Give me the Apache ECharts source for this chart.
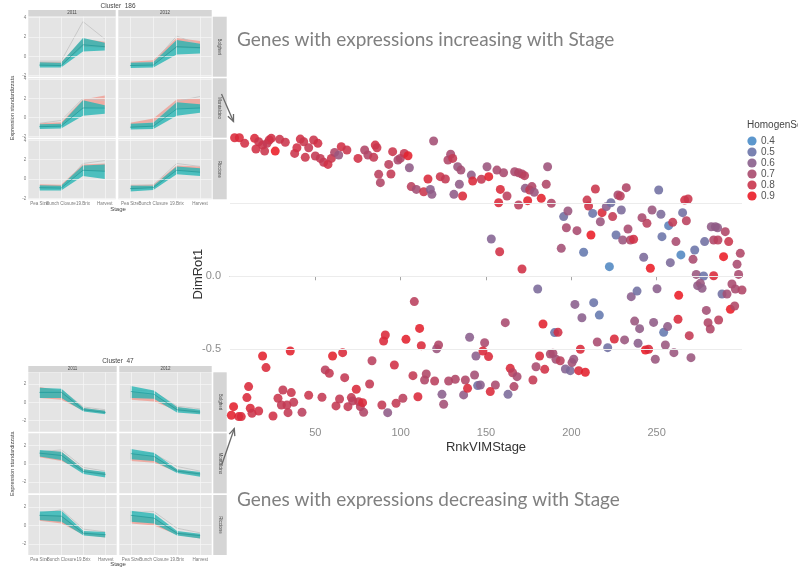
<!DOCTYPE html>
<html>
<head>
<meta charset="utf-8">
<script src="https://cdn.jsdelivr.net/npm/echarts@6/dist/echarts.min.js"></script>
<style>
  html, body { margin: 0; padding: 0; background: #ffffff; }
  #chart { width: 798px; height: 567px; }
</style>
</head>
<body>
<div id="chart"></div>
<script>
// ---- Main scatter: rank of stage VIM vs first rotated dimension, coloured by homogeneity ----
const rnkVIMStage = [
  2.7,5.5,8.6,14.4,16.8,15.2,20.3,19.1,21.7,23.0,24.2,26.5,29.1,32.4,37.9,39.2,41.2,43.2,44.1,46.1,
  49.0,50.0,51.5,52.9,54.9,57.4,59.4,61.3,63.7,65.2,68.5,75.0,78.9,80.8,84.2,85.1,86.1,87.1,88.1,93.0,
  94.3,95.3,98.4,99.8,102.1,104.3,105.1,106.2,109.2,113.5,116.0,117.4,118.3,119.3,123.2,126.2,127.7,129.3,130.5,131.2,
  133.4,134.4,135.3,136.3,141.4,142.2,147.3,
  150.6,151.6,156.4,160.3,158.4,157.4,162.3,166.8,169.1,171.1,172.6,169.1,173.0,174.4,175.6,176.9,178.3,182.4,185.3,186.1,
  188.3,153.1,158.0,171.1,195.5,198.0,197.1,203.3,194.1,207.2,209.2,210.1,211.5,212.5,214.1,217.0,218.0,220.5,222.3,223.2,
  224.2,226.2,227.3,228.7,229.3,232.2,233.2,230.1,234.6,236.5,241.4,242.4,244.3,246.3,247.3,251.2,252.5,253.1,257.0,258.0,
  259.4,261.3,264.2,265.2,266.4,268.4,267.4,271.3,272.3,273.2,277.5,278.1,282.0,284.4,283.4,285.9,285.7,289.2,290.2,292.2,
  297.1,298.0,299.0,283.4,
  155.5,161.3,162.9,164.2,165.6,166.4,168.2,177.5,179.3,180.3,181.4,183.4,184.4,187.7,189.2,190.2,192.2,191.0,193.5,196.5,
  199.4,200.4,201.4,202.1,204.3,205.3,206.2,208.2,213.1,215.2,216.4,221.3,225.2,231.2,235.1,237.1,238.5,239.1,240.0,243.4,
  245.3,248.2,249.2,250.2,254.1,255.1,256.4,260.1,262.5,262.9,269.1,270.1,274.0,275.6,276.6,279.1,280.1,281.4,286.3,288.3,
  291.2,293.2,294.1,295.7,296.1,300.0,
  2.1,5.1,6.6,10.9,9.9,11.9,12.9,16.8,19.1,21.1,25.2,28.1,30.1,31.0,33.4,34.0,35.9,37.3,35.3,42.2,
  46.1,53.9,55.8,58.2,60.1,62.1,64.2,66.0,67.2,69.1,71.1,71.9,74.0,75.4,76.4,77.7,78.3,81.8,83.2,89.0,
  90.0,91.0,92.4,96.3,97.3,101.3,103.1,108.0,107.2,110.1,111.1,112.1,114.0,115.0,119.9,121.1,122.2,124.2,125.2,128.1,
  132.0,136.9,137.9,139.2,140.4,143.3,144.1,145.1,146.7,149.2,148.2,151.5,152.5,0.8
];
const dimRot1 = [
  0.947,0.947,0.909,0.943,0.920,0.870,0.856,0.897,0.909,0.932,0.943,0.856,0.936,0.916,0.840,0.879,0.938,0.920,0.813,0.879,
  0.932,0.822,0.909,0.806,0.779,0.765,0.806,0.847,0.829,0.886,0.863,0.806,0.863,0.829,0.813,0.897,0.879,0.697,0.640,0.765,
  0.699,0.852,0.795,0.806,0.840,0.824,0.742,0.613,0.594,0.578,0.665,0.594,0.560,0.925,0.681,0.665,0.795,0.834,0.806,0.560,
  0.749,0.629,0.726,0.549,0.692,0.651,0.663,
  0.749,0.681,0.726,0.708,0.594,0.503,0.549,0.715,0.708,0.699,0.688,0.487,0.601,0.517,0.590,0.613,0.574,0.533,0.629,0.749,
  0.499,0.255,0.168,0.050,0.408,0.446,0.332,0.312,0.191,0.164,0.521,0.480,0.282,0.430,0.597,0.373,0.435,0.476,0.066,0.503,
  0.408,0.282,0.556,0.549,0.453,0.606,0.323,0.248,0.248,0.253,0.401,0.130,0.362,0.055,0.453,0.590,0.424,0.271,0.346,0.093,
  0.369,0.237,0.146,0.435,0.521,0.528,0.380,0.116,0.180,0.013,0.002,0.237,0.339,0.339,0.248,0.248,0.332,0.134,0.305,0.237,
  0.082,0.013,0.157,0.004,
  -0.743,-0.317,-0.807,-0.629,-0.659,-0.754,-0.686,-0.709,-0.618,-0.087,-0.545,-0.326,-0.636,-0.531,-0.526,-0.385,-0.383,-0.567,-0.577,-0.634,
  -0.645,-0.590,-0.567,-0.192,-0.645,-0.499,-0.283,-0.656,-0.180,-0.449,-0.265,-0.488,-0.429,-0.435,-0.139,-0.306,-0.101,-0.458,-0.358,-0.504,
  -0.499,-0.315,-0.567,-0.085,-0.383,-0.470,-0.344,-0.522,-0.294,-0.130,-0.406,-0.556,-0.064,-0.048,-0.082,-0.233,-0.317,-0.360,-0.299,-0.121,
  -0.121,-0.226,-0.053,-0.203,-0.087,-0.094,
  -0.891,-0.959,-0.959,-0.754,-0.829,-0.902,-0.937,-0.921,-0.545,-0.624,-0.955,-0.834,-0.880,-0.777,-0.880,-0.932,-0.795,-0.861,-0.511,-0.930,
  -0.813,-0.827,-0.640,-0.663,-0.545,-0.886,-0.839,-0.522,-0.693,-0.891,-0.829,-0.852,-0.772,-0.857,-0.891,-0.864,-0.930,-0.736,-0.577,-0.880,
  -0.442,-0.401,-0.932,-0.606,-0.868,-0.834,-0.431,-0.173,-0.679,-0.823,-0.356,-0.474,-0.709,-0.668,-0.716,-0.495,-0.470,-0.807,-0.875,-0.716,
  -0.704,-0.811,-0.709,-0.766,-0.417,-0.675,-0.545,-0.747,-0.743,-0.454,-0.511,-0.549,-0.788,-0.950
];
const homogenScore = [
  0.85,0.85,0.82,0.85,0.80,0.82,0.80,0.80,0.78,0.80,0.82,0.93,0.80,0.80,0.80,0.82,0.82,0.80,0.80,0.78,
  0.80,0.78,0.82,0.78,0.78,0.82,0.80,0.72,0.65,0.82,0.80,0.82,0.72,0.72,0.78,0.82,0.80,0.75,0.72,0.75,
  0.78,0.80,0.70,0.72,0.78,0.88,0.62,0.75,0.68,0.80,0.85,0.60,0.62,0.68,0.80,0.78,0.72,0.70,0.78,0.62,
  0.65,0.62,0.68,0.85,0.62,0.85,0.78,
  0.65,0.88,0.70,0.70,0.85,0.85,0.75,0.70,0.72,0.72,0.75,0.75,0.62,0.88,0.78,0.72,0.65,0.88,0.72,0.66,
  0.72,0.58,0.82,0.82,0.52,0.65,0.70,0.70,0.68,0.48,0.80,0.82,0.93,0.50,0.80,0.65,0.85,0.60,0.42,0.52,
  0.78,0.50,0.70,0.75,0.55,0.72,0.70,0.65,0.72,0.82,0.70,0.55,0.75,0.93,0.65,0.52,0.55,0.50,0.45,0.55,
  0.78,0.70,0.42,0.52,0.82,0.80,0.75,0.70,0.50,0.65,0.50,0.52,0.62,0.62,0.72,0.75,0.62,0.92,0.72,0.80,
  0.70,0.70,0.72,0.85,
  0.70,0.70,0.55,0.85,0.75,0.72,0.70,0.78,0.70,0.55,0.85,0.88,0.82,0.70,0.70,0.50,0.82,0.68,0.75,0.58,
  0.55,0.68,0.65,0.60,0.85,0.85,0.60,0.88,0.50,0.70,0.48,0.52,0.85,0.65,0.60,0.65,0.52,0.60,0.62,0.90,
  0.85,0.62,0.65,0.60,0.48,0.65,0.62,0.65,0.85,0.92,0.78,0.65,0.62,0.65,0.62,0.68,0.72,0.72,0.75,0.52,
  0.68,0.93,0.70,0.72,0.70,0.72,
  0.88,0.85,0.85,0.85,0.85,0.85,0.80,0.82,0.88,0.85,0.82,0.80,0.78,0.78,0.78,0.78,0.80,0.78,0.88,0.75,
  0.80,0.78,0.75,0.78,0.88,0.78,0.78,0.85,0.78,0.78,0.78,0.75,0.85,0.78,0.75,0.85,0.72,0.78,0.75,0.78,
  0.85,0.85,0.62,0.82,0.78,0.75,0.88,0.75,0.78,0.85,0.88,0.85,0.72,0.72,0.75,0.65,0.72,0.60,0.68,0.72,
  0.72,0.62,0.72,0.85,0.60,0.68,0.60,0.52,0.60,0.70,0.85,0.85,0.85,0.88
];
const xTickValues = [50, 100, 150, 200, 250];
const yTickValues = [-0.5, 0.0];
const yGridValues = [-0.5, 0.0, 0.5];
const legendBreaks = [0.4, 0.5, 0.6, 0.7, 0.8, 0.9];

// ---- Facet insets: expression profiles along ripening stages ----
const stages = ['Pea Size', 'Bunch Closure', '19.Brix', 'Harvest'];
const years = ['2011', '2012'];
const sites = ['Bolgheri', 'Montalcino', 'Riccione'];
const yTicks186 = [-2, 0, 2, 4];
const yTicks47 = [-2, 0, 2];

// panels ordered: site row by row, 2011 then 2012
const tealLow186 = [[-1.15,-1.15,0.5,0.6],[-1.2,-1.15,0.2,0.3],[-1.2,-1.15,0.2,0.4],[-1.25,-1.2,0.2,0.5],[-1.2,-1.2,0.3,0.0],[-1.3,-1.15,0.5,0.3]];
const tealHigh186 = [[-0.6,-0.65,1.9,1.4],[-0.65,-0.6,1.7,1.3],[-0.7,-0.65,1.8,1.3],[-0.65,-0.55,1.6,1.4],[-0.65,-0.7,1.4,1.5],[-0.7,-0.7,1.3,1.1]];
const tealMid186 = [[-0.9,-0.95,1.2,1.0],[-0.95,-0.9,1.0,0.9],[-0.95,-0.9,1.0,1.0],[-1.0,-0.9,0.9,1.0],[-0.9,-0.95,0.9,0.8],[-1.0,-0.9,0.9,0.7]];
const salmonLow186 = [[-1.0,-1.0,1.0,0.9],[-1.0,-0.9,0.9,0.8],[-1.0,-0.9,1.0,1.1],[-1.1,-0.9,1.0,1.0],[-1.0,-0.9,0.9,0.8],[-1.1,-0.9,0.9,0.7]];
const salmonHigh186 = [[-0.6,-0.6,1.8,1.5],[-0.55,-0.4,1.9,1.6],[-0.6,-0.5,1.9,2.3],[-0.55,-0.1,1.9,2.0],[-0.55,-0.6,1.5,1.6],[-0.6,-0.6,1.4,1.3]];
const grey186 = [[-0.5,-0.5,3.6,1.8],[-0.7,-0.6,2.1,1.2],[-0.6,-0.3,2.0,1.8],[-0.8,-0.5,1.7,2.2],[-0.8,-0.9,1.6,1.9],[-0.7,-0.6,1.6,1.3]];

const tealLow47 = [[0.5,0.5,-1.0,-1.3],[0.5,0.4,-1.1,-1.3],[0.8,0.4,-1.1,-1.5],[0.5,0.3,-1.0,-1.4],[0.6,0.4,-1.1,-1.3],[0.4,0.2,-1.1,-1.4]];
const tealHigh47 = [[1.6,1.5,-0.6,-0.9],[1.8,1.3,-0.5,-0.8],[1.5,1.3,-0.6,-0.9],[1.6,1.2,-0.6,-0.9],[1.5,1.6,-0.6,-0.7],[1.6,1.3,-0.6,-0.9]];
const tealMid47 = [[1.1,1.1,-0.8,-1.1],[1.2,0.9,-0.8,-1.05],[1.15,0.9,-0.85,-1.15],[1.1,0.8,-0.8,-1.1],[1.1,1.0,-0.85,-1.0],[1.1,0.8,-0.85,-1.1]];
const salmonLow47 = [[0.5,0.3,-0.9,-1.2],[0.3,0.1,-0.9,-1.2],[0.7,0.3,-0.9,-1.3],[0.3,0.1,-0.9,-1.3],[0.5,0.2,-1.0,-1.3],[0.2,0.0,-1.0,-1.4]];
const salmonHigh47 = [[1.7,1.3,-0.6,-0.9],[1.2,0.8,-0.5,-0.9],[1.4,1.3,-0.6,-1.0],[1.1,0.8,-0.6,-1.0],[1.2,1.1,-0.7,-1.0],[1.1,0.8,-0.7,-1.0]];
const grey47 = [[0.9,1.4,-0.5,-0.8],[1.4,1.2,-0.4,-0.7],[1.3,1.5,-0.4,-0.8],[1.2,1.1,-0.3,-0.8],[1.3,1.7,-0.4,-0.7],[1.4,1.5,-0.3,-0.8]];

// colour ramp for the homogeneity score (blue -> red)
const scoreColors = ['#4a8cc8', '#6b74a8', '#8a5f8c', '#a94a6e', '#c9354c', '#ea1c27'];

const insets = [
  {
    id: 'c186', title: 'Cluster  186', titleY: 6.5, stripY: [10, 16.5],
    cols: [[28.3, 115.7], [118.3, 211.7]],
    rows: [[16.7, 76.7], [78.3, 137.7], [139.3, 199.3]],
    rightStrip: [212.7, 226.7], stageY: 209.5, yMin: -2.1, yMax: 4.1, ticks: yTicks186,
    tealLow: tealLow186, tealHigh: tealHigh186, tealMid: tealMid186,
    salmonLow: salmonLow186, salmonHigh: salmonHigh186, grey: grey186
  },
  {
    id: 'c47', title: 'Cluster  47', titleY: 361.5, stripY: [366, 372],
    cols: [[28.3, 116.7], [119.3, 211.7]],
    rows: [[372.3, 431.7], [433.3, 493.3], [495, 555]],
    rightStrip: [213.3, 226.7], stageY: 564.5, yMin: -3.2, yMax: 3.3, ticks: yTicks47,
    tealLow: tealLow47, tealHigh: tealHigh47, tealMid: tealMid47,
    salmonLow: salmonLow47, salmonHigh: salmonHigh47, grey: grey47
  }
];

const grids = [];
const xAxes = [];
const yAxes = [];
const series = [];
const graphics = [];

// main scatter panel
grids.push({ left: 230, right: 56, top: 130, bottom: 148.8, containLabel: false });
xAxes.push({
  type: 'value', gridIndex: 0, min: 0, max: 300,
  name: 'RnkVIMStage', nameLocation: 'middle', nameGap: 23, nameMoveOverlap: false,
  nameTextStyle: { color: '#333333', fontSize: 13 },
  axisLine: { show: true, lineStyle: { color: '#a6a6a6', width: 1 } },
  axisTick: { show: true, customValues: xTickValues, length: 4, lineStyle: { color: '#a6a6a6' } },
  axisLabel: { customValues: xTickValues, color: '#8c8c8c', fontSize: 11, margin: 9 },
  splitLine: { show: false }
});
yAxes.push({
  type: 'value', gridIndex: 0, min: -0.97, max: 1.0,
  name: 'DimRot1', nameLocation: 'middle', nameGap: 25, nameMoveOverlap: false,
  nameTextStyle: { color: '#333333', fontSize: 13 },
  axisLine: { show: false }, axisTick: { show: false },
  axisLabel: { customValues: yTickValues, color: '#8c8c8c', fontSize: 11, margin: 9,
               formatter: v => v.toFixed(1) },
  splitLine: { show: false }
});
series.push({
  type: 'scatter', xAxisIndex: 0, yAxisIndex: 0, z: 3,
  symbolSize: 9, itemStyle: { opacity: 0.88 },
  data: rnkVIMStage.map((r, i) => [r, dimRot1[i], homogenScore[i]]),
  animation: false
});
// horizontal reference lines of the main panel
series.push({
  type: 'line', xAxisIndex: 0, yAxisIndex: 0, z: 1, silent: true, animation: false,
  symbol: 'none', data: [[0, 0]], lineStyle: { opacity: 0 },
  markLine: {
    silent: true, animation: false, symbol: ['none', 'none'], label: { show: false },
    lineStyle: { color: '#ececec', width: 1, type: 'solid' },
    data: yGridValues.map(v => ({ yAxis: v }))
  }
});

function diff(hi, lo) { return hi.map((v, i) => +(v - lo[i]).toFixed(3)); }

insets.forEach(ins => {
  for (let p = 0; p < 6; p++) {
    const row = Math.floor(p / 2), col = p % 2;
    const gi = grids.length;
    const c = ins.cols[col], r = ins.rows[row];
    grids.push({
      left: c[0], top: r[0], width: c[1] - c[0], height: r[1] - r[0],
      show: true, backgroundColor: '#e4e4e4', borderWidth: 0, containLabel: false
    });
    xAxes.push({
      type: 'category', gridIndex: gi, data: stages, boundaryGap: true,
      axisLine: { show: false }, axisTick: { show: false }, splitLine: { show: false },
      axisLabel: { show: row === 2, interval: 0, fontSize: 4.5, color: '#7a7a7a', margin: 2 }
    });
    yAxes.push({
      type: 'value', gridIndex: gi, min: ins.yMin, max: ins.yMax,
      axisLine: { show: false }, axisTick: { show: false }, splitLine: { show: false },
      axisLabel: { show: col === 0, customValues: ins.ticks, fontSize: 4.5, color: '#7a7a7a', margin: 2 }
    });
    const base = { type: 'line', xAxisIndex: gi, yAxisIndex: gi, symbol: 'none', silent: true, animation: false };
    const id = ins.id + '_' + p;
    series.push(Object.assign({}, base, {
      z: 1, data: ins.tealMid[p], lineStyle: { opacity: 0 },
      markLine: {
        silent: true, animation: false, symbol: ['none', 'none'], label: { show: false },
        lineStyle: { color: '#f7f7f7', width: 0.7, type: 'solid' },
        data: stages.map(s => ({ xAxis: s })).concat(ins.ticks.map(v => ({ yAxis: v })))
      }
    }));
    series.push(Object.assign({}, base, { z: 3, data: ins.grey[p], lineStyle: { color: '#c2c2c2', width: 0.8 } }));
    series.push(Object.assign({}, base, { z: 3, stack: 's' + id, stackStrategy: 'all', data: ins.salmonLow[p], lineStyle: { opacity: 0 } }));
    series.push(Object.assign({}, base, {
      z: 3, stack: 's' + id, stackStrategy: 'all', data: diff(ins.salmonHigh[p], ins.salmonLow[p]),
      lineStyle: { opacity: 0 }, areaStyle: { color: '#f0a198', opacity: 0.85 }
    }));
    series.push(Object.assign({}, base, { z: 4, stack: 't' + id, stackStrategy: 'all', data: ins.tealLow[p], lineStyle: { opacity: 0 } }));
    series.push(Object.assign({}, base, {
      z: 4, stack: 't' + id, stackStrategy: 'all', data: diff(ins.tealHigh[p], ins.tealLow[p]),
      lineStyle: { opacity: 0 }, areaStyle: { color: '#22b5b3', opacity: 0.78 }
    }));
    series.push(Object.assign({}, base, { z: 5, data: ins.tealMid[p], lineStyle: { color: '#11908f', width: 1, opacity: 0.55 } }));
  }

  // strips, titles and axis captions of the facet grid
  const smallFont = '4.5px "Liberation Sans", Arial, sans-serif';
  ins.cols.forEach((c, k) => {
    graphics.push({ type: 'rect', shape: { x: c[0], y: ins.stripY[0], width: c[1] - c[0], height: ins.stripY[1] - ins.stripY[0] },
                    style: { fill: '#d5d5d5' } });
    graphics.push({ type: 'text', x: (c[0] + c[1]) / 2, y: (ins.stripY[0] + ins.stripY[1]) / 2,
                    style: { text: years[k], font: smallFont, fill: '#4a4a4a', textAlign: 'center', textVerticalAlign: 'middle' } });
  });
  ins.rows.forEach((r, k) => {
    graphics.push({ type: 'rect', shape: { x: ins.rightStrip[0], y: r[0], width: ins.rightStrip[1] - ins.rightStrip[0], height: r[1] - r[0] },
                    style: { fill: '#d5d5d5' } });
    graphics.push({ type: 'text', x: (ins.rightStrip[0] + ins.rightStrip[1]) / 2, y: (r[0] + r[1]) / 2, rotation: -Math.PI / 2,
                    style: { text: sites[k], font: smallFont, fill: '#4a4a4a', textAlign: 'center', textVerticalAlign: 'middle' } });
  });
  graphics.push({ type: 'text', x: 118, y: ins.titleY,
                  style: { text: ins.title, font: '6.5px "Liberation Sans", Arial, sans-serif', fill: '#444', textAlign: 'center', textVerticalAlign: 'middle' } });
  graphics.push({ type: 'text', x: 118, y: ins.stageY,
                  style: { text: 'Stage', font: '6px "Liberation Sans", Arial, sans-serif', fill: '#444', textAlign: 'center', textVerticalAlign: 'middle' } });
  graphics.push({ type: 'text', x: 12.5, y: (ins.rows[0][0] + ins.rows[2][1]) / 2, rotation: Math.PI / 2,
                  style: { text: 'Expression standardizzata', font: '5.5px "Liberation Sans", Arial, sans-serif', fill: '#444', textAlign: 'center', textVerticalAlign: 'middle' } });
});

// colour legend
graphics.push({ type: 'text', x: 747, y: 125,
  style: { text: 'HomogenScore', font: '10px "Liberation Sans", Arial, sans-serif', fill: '#444', textAlign: 'left', textVerticalAlign: 'middle' } });
legendBreaks.forEach((b, i) => {
  const cy = 141 + i * 11;
  graphics.push({ type: 'circle', shape: { cx: 752, cy: cy, r: 4.6 }, style: { fill: scoreColors[i], opacity: 0.9 } });
  graphics.push({ type: 'text', x: 761, y: cy,
    style: { text: b.toFixed(1), font: '10px "Liberation Sans", Arial, sans-serif', fill: '#555', textAlign: 'left', textVerticalAlign: 'middle' } });
});

// annotations
const noteFont = '19px Lato, "Open Sans", sans-serif';
graphics.push({ type: 'text', x: 237, y: 40,
  style: { text: 'Genes with expressions increasing with Stage', font: noteFont, fill: '#808080', textAlign: 'left', textVerticalAlign: 'middle' } });
graphics.push({ type: 'text', x: 237, y: 500,
  style: { text: 'Genes with expressions decreasing with Stage', font: noteFont, fill: '#808080', textAlign: 'left', textVerticalAlign: 'middle' } });

const arrowStyle = { stroke: '#6a6a6a', lineWidth: 1.3, fill: null };
graphics.push({ type: 'line', shape: { x1: 221.5, y1: 94, x2: 233.5, y2: 121.5 }, style: arrowStyle });
graphics.push({ type: 'polyline', shape: { points: [[227.9, 116.3], [233.5, 121.5], [233.5, 113.9]] }, style: arrowStyle });
graphics.push({ type: 'line', shape: { x1: 221.7, y1: 465, x2: 234.3, y2: 428.5 }, style: arrowStyle });
graphics.push({ type: 'polyline', shape: { points: [[229.2, 434.1], [234.3, 428.5], [234.8, 436.1]] }, style: arrowStyle });

const chart = echarts.init(document.getElementById('chart'), null, { renderer: 'canvas' });
chart.setOption({
  backgroundColor: '#ffffff',
  animation: false,
  textStyle: { fontFamily: '"Liberation Sans", Arial, sans-serif' },
  grid: grids,
  xAxis: xAxes,
  yAxis: yAxes,
  visualMap: {
    type: 'continuous', show: false, seriesIndex: 0, dimension: 2,
    min: legendBreaks[0], max: legendBreaks[legendBreaks.length - 1],
    inRange: { color: scoreColors }
  },
  graphic: { elements: graphics },
  series: series
});
</script>
</body>
</html>
